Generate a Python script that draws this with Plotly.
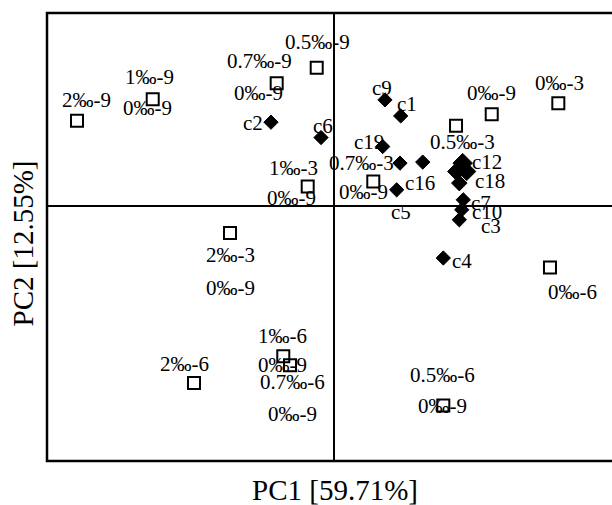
import plotly.graph_objects as go

# ---- data (PC scores; arbitrary scale) ----
sample_names = ["2‰-9", "1‰-9", "0.7‰-9", "0.5‰-9", "1‰-3", "0.7‰-3", "0.5‰-3",
                "0‰-9", "0‰-3", "2‰-3", "1‰-6", "0.7‰-6", "2‰-6", "0‰-6", "0.5‰-6"]
sample_pc1 = [-4.275, -3.013, -0.947, -0.280, -0.430, 0.663, 2.042,
              2.637, 3.747, -1.725, -0.837, -0.725, -2.325, 3.608, 1.830]
sample_pc2 = [1.428, 1.787, 2.053, 2.313, 0.330, 0.413, 1.342,
              1.537, 1.720, -0.447, -2.503, -2.653, -2.947, -1.020, -3.325]
control_labels = ["", "0‰-9", "0‰-9", "", "0‰-9", "0‰-9", "",
                  "", "", "0‰-9", "0‰-9", "0‰-9", "", "", "0‰-9"]

comp_names = ["c9", "c1", "c2", "c6", "c19", "", "c16", "c5", "c12", "", "",
              "c18", "c7", "c10", "c3", "c4"]
comp_pc1 = [0.858, 1.120, -1.042, -0.208, 0.820, 1.108, 1.487, 1.053, 2.153, 2.053, 2.220,
            2.097, 2.163, 2.137, 2.097, 1.830]
comp_pc2 = [1.775, 1.508, 1.403, 1.147, 0.997, 0.720, 0.737, 0.275, 0.720, 0.580, 0.580,
            0.387, 0.108, -0.058, -0.225, -0.863]

x_title = "PC1 [59.71%]"
y_title = "PC2 [12.55%]"

# ---- layout-only settings (label offsets in px, marker sizes) ----
sample_off = [(9, 21), (-3, 22), (-17, 22), (1, 26), (-14, 19), (-12, 19), (6, -16),
              (0, 21), (1, 20), (0, -22), (-1, 20), (2, -17), (-10, 19), (23, -25), (-1, 31)]
control_off = [None, (-5, -9), (-18, -10), None, (-16, -11), (-10, -10), None,
               None, None, (0, -55), (-1, -9), (2, -49), None, None, (-1, 0)]
comp_off = [(-3, 12), (6, 12), (-18, -1), (2, 12), (-14, 5), None, (-3, -21), (4, -22),
            (24, 1), None, None, (31, 2), (18, -3), (25, -2), (32, -6), (19, -3)]
comp_size = [11, 11, 11, 11, 11, 11, 11, 11, 15, 14, 14, 12, 11, 11, 11, 11]

FONT = "Liberation Serif"
LBL = 21

fig = go.Figure()
fig.add_trace(go.Scatter(
    x=sample_pc1, y=sample_pc2, mode="markers", text=sample_names,
    marker=dict(symbol="square-open", size=12, color="black", line=dict(width=2, color="black")),
    showlegend=False, hoverinfo="text"))
fig.add_trace(go.Scatter(
    x=comp_pc1, y=comp_pc2, mode="markers", text=comp_names,
    marker=dict(symbol="diamond", size=comp_size, color="black", opacity=1,
                line=dict(width=1, color="black")),
    showlegend=False, hoverinfo="text"))

ann = []
for i, name in enumerate(sample_names):
    dx, dy = sample_off[i]
    ann.append(dict(x=sample_pc1[i], y=sample_pc2[i], text=name, showarrow=False,
                    xshift=dx, yshift=dy, font=dict(family=FONT, size=LBL, color="black")))
    if control_labels[i]:
        dx, dy = control_off[i]
        ann.append(dict(x=sample_pc1[i], y=sample_pc2[i], text=control_labels[i], showarrow=False,
                        xshift=dx, yshift=dy, font=dict(family=FONT, size=LBL, color="black")))
for i, name in enumerate(comp_names):
    if name:
        dx, dy = comp_off[i]
        ann.append(dict(x=comp_pc1[i], y=comp_pc2[i], text=name, showarrow=False,
                        xshift=dx, yshift=dy, font=dict(family=FONT, size=LBL, color="black")))

ann.append(dict(xref="paper", yref="paper", x=(335 - 47) / 565, y=-29 / 448, text=x_title,
                showarrow=False, yanchor="middle",
                font=dict(family=FONT, size=29, color="black")))
ann.append(dict(xref="paper", yref="paper", x=-25 / 565, y=1 - (243.5 - 13) / 448, text=y_title,
                showarrow=False, textangle=-90, xanchor="center", yanchor="middle",
                font=dict(family=FONT, size=29, color="black")))

fig.update_layout(
    width=612, height=505,
    margin=dict(l=47, r=0, t=13, b=44),
    paper_bgcolor="white", plot_bgcolor="white",
    annotations=ann,
    xaxis=dict(range=[-286.5 / 60, 278.5 / 60], showgrid=False, showticklabels=False, ticks="",
               zeroline=True, zerolinecolor="black", zerolinewidth=2, showline=False),
    yaxis=dict(range=[-255 / 60, 193.5 / 60], showgrid=False, showticklabels=False, ticks="",
               zeroline=True, zerolinecolor="black", zerolinewidth=2, showline=False),
    shapes=[dict(type="rect", xref="paper", yref="paper", x0=0, x1=1.05, y0=0, y1=1,
                 line=dict(color="black", width=2.5), fillcolor="rgba(0,0,0,0)")],
)

fig.write_html("out.html")
